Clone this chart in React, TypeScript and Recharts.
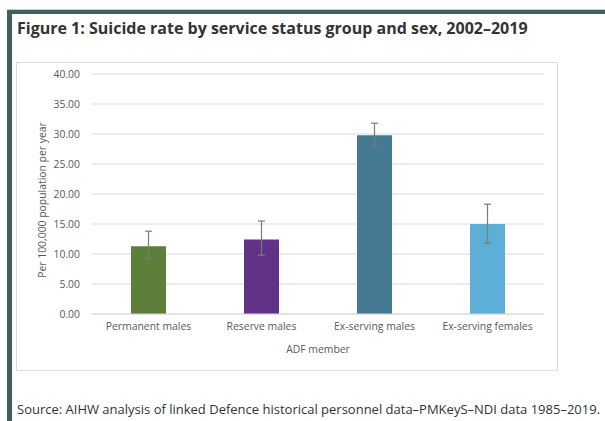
import React from 'react';
import { BarChart, Bar, XAxis, YAxis, CartesianGrid, ErrorBar, Cell, Label } from 'recharts';

const groups = ['Permanent males', 'Reserve males', 'Ex-serving males', 'Ex-serving females'];
const rates = [11.3, 12.4, 29.8, 15.0];
const lowerErr = [2.1, 2.6, 2.0, 3.2];
const upperErr = [2.5, 3.1, 2.0, 3.3];
const barColors = ['#5E7F3B', '#603388', '#457A92', '#5EAFD7'];
const yTicks = [0, 5, 10, 15, 20, 25, 30, 35, 40];

const data = groups.map((g, i) => ({
  group: g,
  rate: rates[i],
  err: [lowerErr[i], upperErr[i]],
}));

const font = '"Open Sans", "Noto Sans", sans-serif';
const tickStyle = { fontSize: 10.4, fill: '#595959', fontFamily: font };

const YLabel = () => (
  <text
    x={26}
    y={138}
    transform="rotate(-90 26 138)"
    textAnchor="middle"
    dominantBaseline="central"
    fontSize={10.4}
    fill="#595959"
    fontFamily={font}
  >
    Per 100,000 population per year
  </text>
);

export default function App() {
  return (
    <div style={{ position: 'absolute', left: 0, top: 0, width: 605, height: 421, background: '#fff', fontFamily: font }}>
      {/* frame */}
      <div style={{ position: 'absolute', left: 7, top: 9, width: 598, height: 1, background: '#c9d2d1' }} />
      <div style={{ position: 'absolute', left: 7, top: 10, width: 598, height: 4, background: '#3F5E5D' }} />
      <div style={{ position: 'absolute', left: 7, top: 10, width: 5, height: 411, background: '#3F5E5D' }} />

      <div style={{ position: 'absolute', left: 17, top: 17, fontSize: 16, fontWeight: 700, color: '#333', whiteSpace: 'nowrap' }}>
        Figure 1: Suicide rate by service status group and sex, 2002–2019
      </div>

      <div style={{ position: 'absolute', left: 16, top: 62, width: 540, height: 307, border: '1px solid #dcdcdc' }} />

      <div style={{ position: 'absolute', left: 16, top: 62 }}>
        <BarChart width={542} height={309} data={data} margin={{ top: 12, right: 14, left: 0, bottom: 0 }}>
          <CartesianGrid vertical={false} stroke="#d9d9d9" />
          <XAxis
            dataKey="group"
            tickLine={false}
            axisLine={{ stroke: '#d9d9d9' }}
            tick={tickStyle}
            tickMargin={3}
            height={57}
          >
            <Label value="ADF member" position="insideTop" offset={32} style={{ fontSize: 10.4, fill: '#595959', fontFamily: font }} />
          </XAxis>
          <YAxis
            width={76}
            domain={[0, 40]}
            ticks={yTicks}
            tickFormatter={(v: number) => v.toFixed(2)}
            tickLine={false}
            axisLine={false}
            tick={tickStyle}
            tickMargin={6}
          >
            <Label content={<YLabel />} />
          </YAxis>
          <Bar dataKey="rate" barSize={35} isAnimationActive={false}>
            {data.map((d, i) => (
              <Cell key={d.group} fill={barColors[i]} />
            ))}
            <ErrorBar dataKey="err" width={3.5} stroke="#7a7a7a" strokeWidth={1.2} />
          </Bar>
        </BarChart>
      </div>

      <div style={{ position: 'absolute', left: 17, top: 400, fontSize: 13, color: '#333', whiteSpace: 'nowrap' }}>
        Source: AIHW analysis of linked Defence historical personnel data–PMKeyS–NDI data 1985–2019.
      </div>
    </div>
  );
}
